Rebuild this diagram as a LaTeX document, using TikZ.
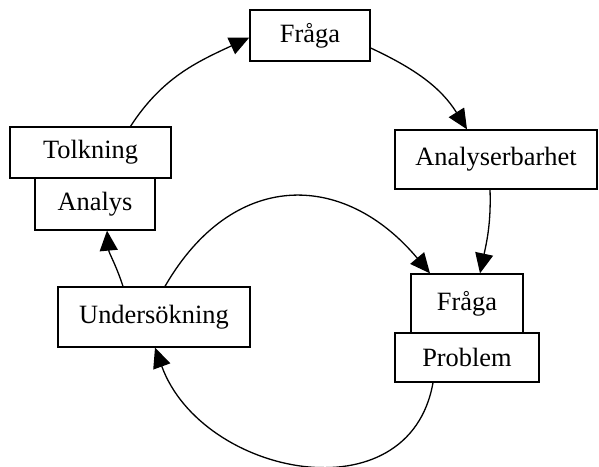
\documentclass[tikz,border=0pt]{standalone}
\usepackage{fontspec}
\setmainfont{Liberation Serif}
\usetikzlibrary{arrows.meta}
\begin{document}
\begin{tikzpicture}[x=1bp,y=-1bp,
  box/.style={draw,line width=1.3bp,inner sep=0pt,font=\fontsize{26.5}{30}\selectfont},
  conn/.style={line width=1.3bp,-{Triangle[length=20bp,width=18bp]}}]
\useasboundingbox (0,0) rectangle (599,467);
\node[box,minimum width=120bp,minimum height=51bp] (fraga) at (310,35.5) {Fråga};
\node[box,minimum width=202bp,minimum height=59bp] (anb) at (496,159.5) {Analyserbarhet};
\node[box,minimum width=161bp,minimum height=51bp] (tolk) at (90.5,152.5) {Tolkning};
\node[box,minimum width=120bp,minimum height=52bp] (analys) at (95,204) {Analys};
\node[box,minimum width=192bp,minimum height=60bp] (unders) at (154,317) {Undersökning};
\node[box,minimum width=112bp,minimum height=59bp] (fraga2) at (467,303.5) {Fråga};
\node[box,minimum width=144bp,minimum height=49bp] (prob) at (467,357.5) {Problem};
\draw[conn] ([xshift=40bp]tolk.north) to[out=57,in=205] ([yshift=-2bp]fraga.west);
\draw[conn] ([yshift=-12.5bp]fraga.east) to[out=-25,in=122] ([xshift=-29bp]anb.north);
\draw[conn] ([xshift=-6bp]anb.south) to[out=-88,in=78] ([xshift=13bp]fraga2.north);
\draw[conn] ([xshift=11bp]unders.north) to[out=60,in=130,looseness=1.3] ([xshift=-37bp]fraga2.north);
\draw[conn] ([xshift=-31bp]unders.north) to[out=108,in=-85] ([xshift=12bp]analys.south);
\draw[conn] ([xshift=-34bp]prob.south) to[out=-100,in=-70,looseness=1.25] ([xshift=1bp]unders.south);
\end{tikzpicture}
\end{document}
